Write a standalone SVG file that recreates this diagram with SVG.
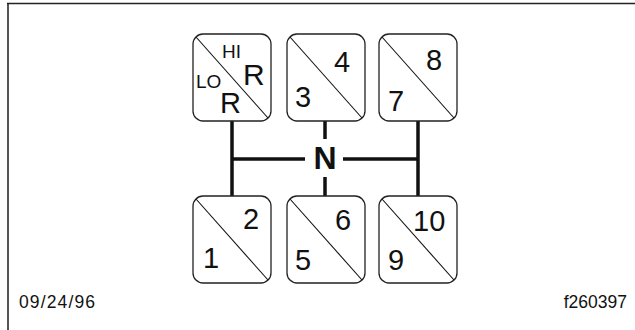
<svg xmlns="http://www.w3.org/2000/svg" width="635" height="330" viewBox="0 0 635 330">
<style>
.box{fill:#fff;stroke:#222;stroke-width:1.3}
.diag{stroke:#111;stroke-width:1.1}
.num{font-family:"Liberation Sans",Arial,sans-serif;font-size:29px;fill:#111}
.sm{font-family:"Liberation Sans",Arial,sans-serif;font-size:19px;fill:#111}
.foot{font-family:"Liberation Sans",Arial,sans-serif;font-size:17.5px;fill:#111}
.link{stroke:#111;stroke-width:3.5;fill:none}
</style>
<rect width="635" height="330" fill="#fff"/>
<g id="frame">
<line x1="8" y1="3" x2="8" y2="330" stroke="#555" stroke-width="2"/>
<line x1="7" y1="3.5" x2="635" y2="3.5" stroke="#222" stroke-width="1.5"/>
</g>
<g id="connectors">
<line class="link" x1="232" y1="121" x2="232" y2="196"/>
<line class="link" x1="418" y1="121" x2="418" y2="196"/>
<line class="link" x1="232" y1="159" x2="305" y2="159"/>
<line class="link" x1="343" y1="159" x2="418" y2="159"/>
<line class="link" x1="325" y1="121" x2="325" y2="139"/>
<line class="link" x1="325" y1="177" x2="325" y2="196"/>
</g>
<g id="neutral">
<text x="325" y="169" text-anchor="middle" style="font-family:'Liberation Sans',Arial,sans-serif;font-size:32px;font-weight:bold;fill:#111">N</text>
</g>
<g id="gate-R">
<rect class="box" x="193" y="34" width="78" height="87" rx="10"/>
<line class="diag" x1="196" y1="37" x2="268" y2="118"/>
<text class="sm" x="222" y="58">HI</text>
<text class="sm" x="196" y="88">LO</text>
<text class="num" x="243" y="85" style="font-size:30px">R</text>
<text class="num" x="220" y="113">R</text>
</g>
<g id="gate-3-4">
<rect class="box" x="287" y="34" width="78" height="87" rx="10"/>
<line class="diag" x1="290" y1="37" x2="362" y2="118"/>
<text class="num" x="334" y="72">4</text>
<text class="num" x="295" y="107">3</text>
</g>
<g id="gate-7-8">
<rect class="box" x="379" y="34" width="78" height="87" rx="10"/>
<line class="diag" x1="382" y1="37" x2="454" y2="118"/>
<text class="num" x="426" y="70">8</text>
<text class="num" x="388" y="111">7</text>
</g>
<g id="gate-1-2">
<rect class="box" x="193" y="196" width="78" height="87" rx="10"/>
<line class="diag" x1="196" y1="199" x2="268" y2="280"/>
<text class="num" x="243" y="229">2</text>
<text class="num" x="203" y="268">1</text>
</g>
<g id="gate-5-6">
<rect class="box" x="287" y="196" width="78" height="87" rx="10"/>
<line class="diag" x1="290" y1="199" x2="362" y2="280"/>
<text class="num" x="335" y="230">6</text>
<text class="num" x="295" y="270">5</text>
</g>
<g id="gate-9-10">
<rect class="box" x="379" y="196" width="78" height="87" rx="10"/>
<line class="diag" x1="382" y1="199" x2="454" y2="280"/>
<text class="num" x="413" y="231">10</text>
<text class="num" x="388" y="270">9</text>
</g>
<g id="footer">
<text class="foot" x="19" y="308" textLength="76">09/24/96</text>
<text class="foot" x="627" y="308" text-anchor="end">f260397</text>
</g>
</svg>
